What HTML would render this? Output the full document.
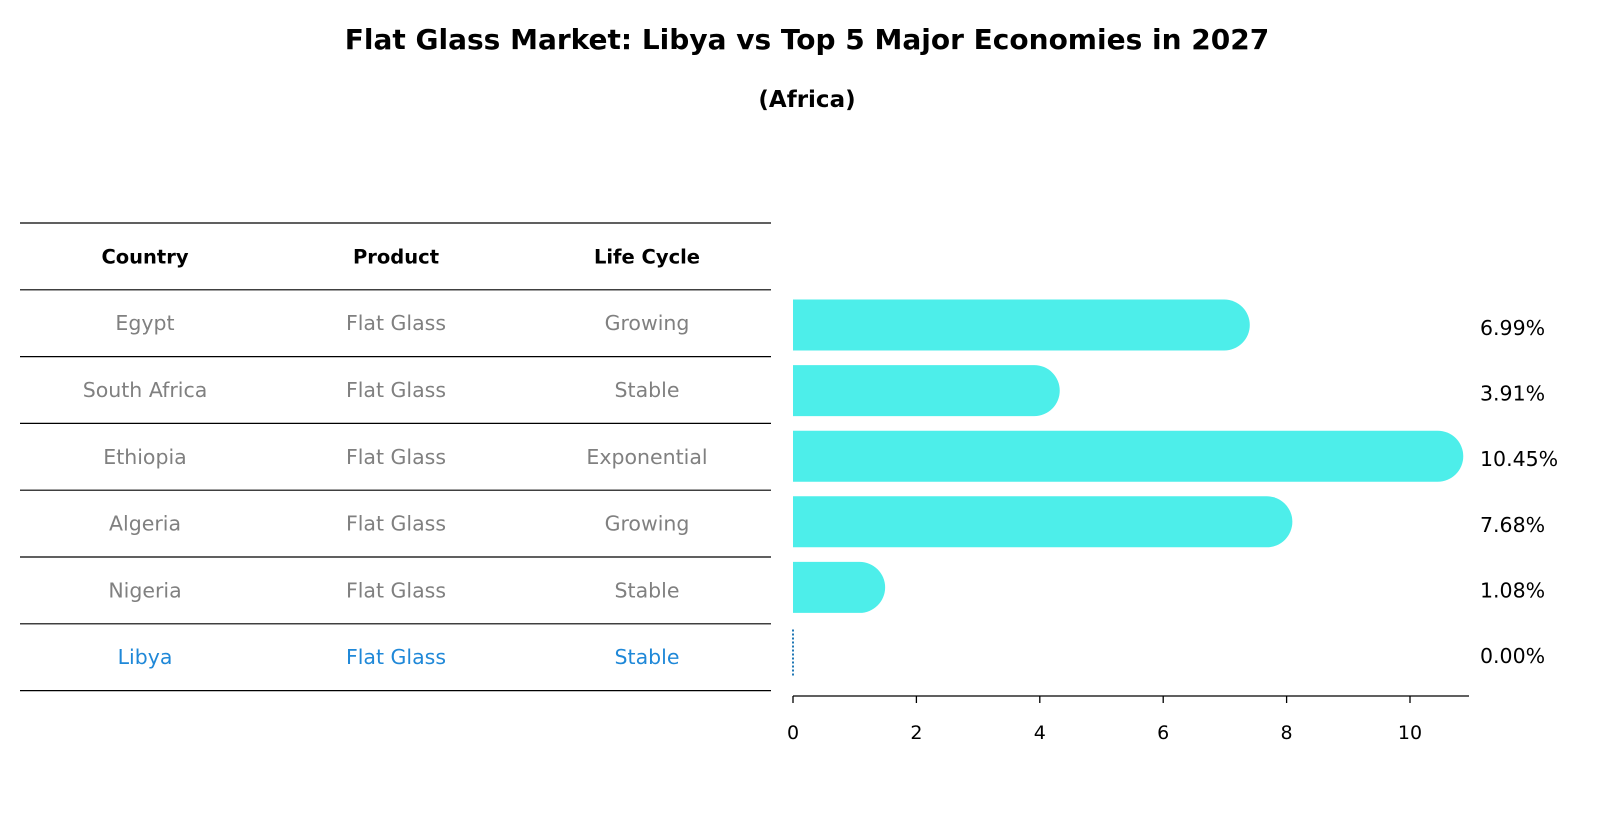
<!DOCTYPE html>
<html><head><meta charset="utf-8"><style>
body{margin:0;background:#fff;font-family:"Liberation Sans","DejaVu Sans",sans-serif}
svg text{font-family:"DejaVu Sans","Liberation Sans",sans-serif}
</style></head><body>
<svg width="1604" height="823" viewBox="0 0 1604 823" xmlns="http://www.w3.org/2000/svg">
<text x="807" y="49" text-anchor="middle" font-size="28" font-weight="bold">Flat Glass Market: Libya vs Top 5 Major Economies in 2027</text>
<text x="807" y="107" text-anchor="middle" font-size="23" font-weight="bold">(Africa)</text>
<g id="table"></g>
<g id="bars"></g>
</svg>
<script>
const countries=["Egypt","South Africa","Ethiopia","Algeria","Nigeria","Libya"];
const products=["Flat Glass","Flat Glass","Flat Glass","Flat Glass","Flat Glass","Flat Glass"];
const lifeCycles=["Growing","Stable","Exponential","Growing","Stable","Stable"];
const growthValues=[6.99,3.91,10.45,7.68,1.08,0.00];
const tickValues=[0,2,4,6,8,10];
const NS="http://www.w3.org/2000/svg";
function mk(t,a,p){const e=document.createElementNS(NS,t);for(const k in a)e.setAttribute(k,a[k]);p.appendChild(e);return e;}
const x0=793,pxPerUnit=61.7;
function xs(v){return x0+v*pxPerUnit;}
function ys(i){return 325+i*65.6;}
const tbl=document.getElementById('table');
const lineY=i=>223+i*66.8;
for(let i=0;i<8;i++){
 const l=mk('line',{x1:20,x2:771,y1:lineY(i),y2:lineY(i),stroke:'#000','stroke-width':1.2},tbl);
 
 
}
const cols=[145,396,647];
["Country","Product","Life Cycle"].forEach((h,j)=>{
 const t=mk('text',{x:cols[j],y:(lineY(0)+lineY(1))/2+7,'text-anchor':'middle','font-size':19.5,'font-weight':'bold'},tbl);
 t.textContent=h;
 
 
});
countries.forEach((c,i)=>{
 const vals=[c,products[i],lifeCycles[i]];
 const color=c==="Libya"?"#1f88d8":"#808080";
 vals.forEach((v,j)=>{
  const t=mk('text',{x:cols[j],y:(lineY(i+1)+lineY(i+2))/2+7,'text-anchor':'middle','font-size':20.5,fill:color},tbl);
  t.textContent=v;
  
  
 });
});
const g=document.getElementById('bars');
const h=51,r=h/2;
growthValues.forEach((v,i)=>{
 const cy=ys(i);
 if(v>0){
  const w=xs(v)-x0;
  const p=mk('path',{d:`M${x0},${cy-r} H${x0+w} A${r},${r} 0 0 1 ${x0+w},${cy+r} H${x0} Z`,fill:'#4deeea'},g);
  
  
 } else {
  const p=mk('line',{x1:x0,x2:x0,y1:cy-r+2,y2:cy+r-2,stroke:'#1f77b4','stroke-width':2,'stroke-dasharray':'2,2'},g);
  
  
 }
 const t=mk('text',{x:1480,y:cy+10,'font-size':20.5},g);
 t.textContent=v.toFixed(2)+'%';
 
 
});
const ax=mk('line',{x1:x0,x2:1469,y1:696,y2:696,stroke:'#000','stroke-width':1.3},g);


tickValues.forEach(v=>{
 const tk=mk('line',{x1:xs(v),x2:xs(v),y1:696,y2:703,stroke:'#000','stroke-width':1.3},g);
 
 
 const t=mk('text',{x:xs(v),y:739,'text-anchor':'middle','font-size':19},g);
 t.textContent=v;
 
 
});
</script>
</body></html>
